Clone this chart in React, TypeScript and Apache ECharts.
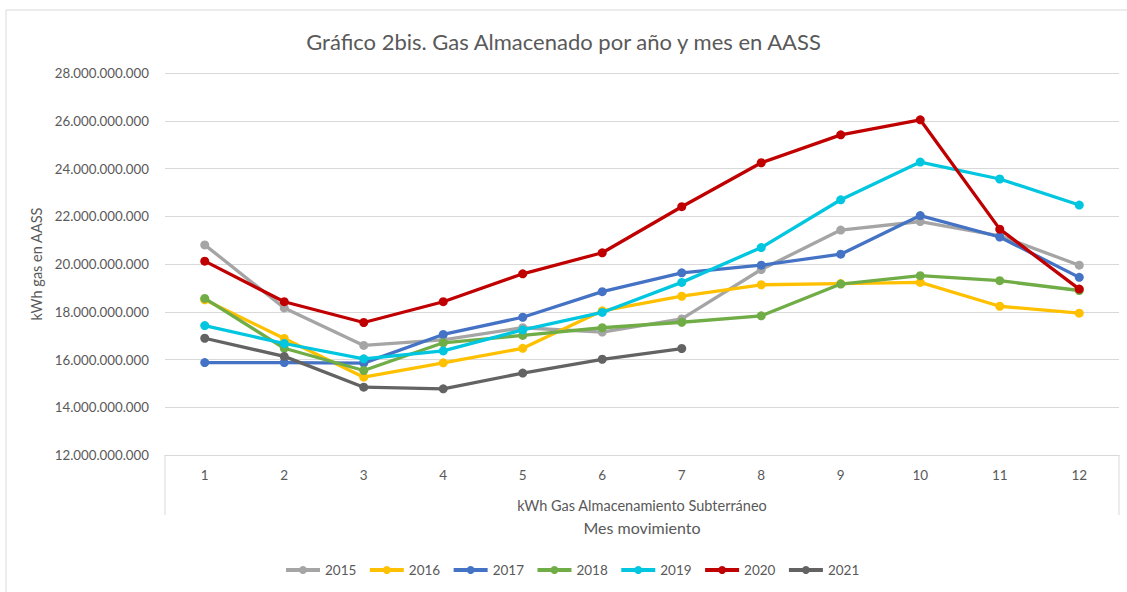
import React, { useEffect, useRef } from "react";
import * as echarts from "echarts";

const months = ["1", "2", "3", "4", "5", "6", "7", "8", "9", "10", "11", "12"];
const years = ["2015", "2016", "2017", "2018", "2019", "2020", "2021"];
const colors = ["#A5A5A5", "#FFC000", "#4472C4", "#70AD47", "#00C6E0", "#C00000", "#636363"];

const s2015 = [20.8e9, 18.16e9, 16.59e9, 16.82e9, 17.33e9, 17.15e9, 17.7e9, 19.77e9, 21.42e9, 21.78e9, 21.18e9, 19.95e9];
const s2016 = [18.5e9, 16.88e9, 15.26e9, 15.86e9, 16.47e9, 18.04e9, 18.65e9, 19.13e9, 19.18e9, 19.23e9, 18.23e9, 17.94e9];
const s2017 = [15.87e9, 15.87e9, 15.85e9, 17.05e9, 17.77e9, 18.84e9, 19.63e9, 19.95e9, 20.41e9, 22.03e9, 21.13e9, 19.44e9];
const s2018 = [18.56e9, 16.47e9, 15.54e9, 16.7e9, 17.01e9, 17.33e9, 17.56e9, 17.83e9, 19.16e9, 19.51e9, 19.3e9, 18.89e9];
const s2019 = [17.42e9, 16.67e9, 16.03e9, 16.36e9, 17.24e9, 17.97e9, 19.23e9, 20.69e9, 22.69e9, 24.27e9, 23.56e9, 22.47e9];
const s2020 = [20.12e9, 18.42e9, 17.55e9, 18.42e9, 19.59e9, 20.47e9, 22.4e9, 24.24e9, 25.41e9, 26.04e9, 21.46e9, 18.95e9];
const s2021 = [16.89e9, 16.13e9, 14.84e9, 14.77e9, 15.43e9, 16.01e9, 16.46e9, null, null, null, null, null];
const seriesData = [s2015, s2016, s2017, s2018, s2019, s2020, s2021];

const yTicks = { min: 12e9, max: 28e9, interval: 2e9 };

const fmt = (v: number) => String(Math.round(v)).replace(/\B(?=(\d{3})+(?!\d))/g, ".");

const FONT = "Lato, 'Open Sans', sans-serif";
const TXT = "#595959";

export default function App() {
  const ref = useRef<HTMLDivElement>(null);
  useEffect(() => {
    if (!ref.current) return;
    const chart = echarts.init(ref.current, undefined, { renderer: "svg" });
    const gridL = 165, gridR = 8, gridT = 73, gridB = 137;
    const axisY = 592 - gridB;
    const rightX = 1127 - gridR;
    chart.setOption({
      animation: false,
      backgroundColor: "#FFFFFF",
      textStyle: { fontFamily: FONT },
      title: {
        text: "Gráfico 2bis. Gas Almacenado por año y mes en AASS",
        left: "center",
        top: 25,
        textStyle: { fontFamily: FONT, fontSize: 22, fontWeight: "normal", color: TXT },
      },
      grid: { left: gridL, right: gridR, top: gridT, bottom: gridB },
      legend: {
        data: years,
        bottom: 10,
        left: 279,
        itemWidth: 34,
        itemHeight: 10,
        itemGap: 11.5,
        lineStyle: { width: 4 },
        textStyle: { fontFamily: FONT, fontSize: 13.5, color: TXT },
      },
      xAxis: {
        type: "category",
        data: months,
        boundaryGap: true,
        axisLine: { lineStyle: { color: "#D9D9D9", width: 1 } },
        axisTick: { show: false },
        axisLabel: { color: TXT, fontSize: 13.5, fontFamily: FONT, margin: 13 },
      },
      yAxis: {
        type: "value",
        min: yTicks.min,
        max: yTicks.max,
        interval: yTicks.interval,
        name: "kWh gas en AASS",
        nameLocation: "middle",
        nameGap: 116,
        nameTextStyle: { color: TXT, fontSize: 14.5, fontFamily: FONT },
        axisLine: { show: false },
        axisTick: { show: false },
        axisLabel: { color: TXT, fontSize: 13.3, fontFamily: FONT, margin: 16, formatter: fmt },
        splitLine: { lineStyle: { color: "#D9D9D9", width: 1 } },
      },
      series: years.map((y, i) => ({
        name: y,
        type: "line",
        data: seriesData[i],
        color: colors[i],
        lineStyle: { width: 3.3, color: colors[i] },
        itemStyle: { color: colors[i] },
        symbol: "circle",
        symbolSize: 9,
        showSymbol: true,
        connectNulls: false,
        z: 2 + i,
      })),
      graphic: [
        {
          type: "rect",
          shape: { x: 6, y: 10, width: 1140, height: 620 },
          style: { fill: "none", stroke: "#D9D9D9", lineWidth: 1 },
          silent: true,
        },
        {
          type: "line",
          shape: { x1: gridL, y1: axisY, x2: gridL, y2: 515 },
          style: { stroke: "#D9D9D9", lineWidth: 1 },
        },
        {
          type: "line",
          shape: { x1: rightX, y1: axisY, x2: rightX, y2: 515 },
          style: { stroke: "#D9D9D9", lineWidth: 1 },
        },
        {
          type: "text",
          x: (gridL + rightX) / 2,
          y: 505,
          style: {
            text: "kWh Gas Almacenamiento Subterráneo",
            fill: TXT,
            font: `14.5px ${FONT}`,
            textAlign: "center",
            textVerticalAlign: "middle",
          },
        },
        {
          type: "text",
          x: (gridL + rightX) / 2,
          y: 527,
          style: {
            text: "Mes movimiento",
            fill: TXT,
            font: `16px ${FONT}`,
            textAlign: "center",
            textVerticalAlign: "middle",
          },
        },
      ],
    });
    return () => chart.dispose();
  }, []);
  return (
    <div
      ref={ref}
      style={{ position: "fixed", left: 0, top: 0, width: 1127, height: 592, background: "#fff" }}
    />
  );
}
